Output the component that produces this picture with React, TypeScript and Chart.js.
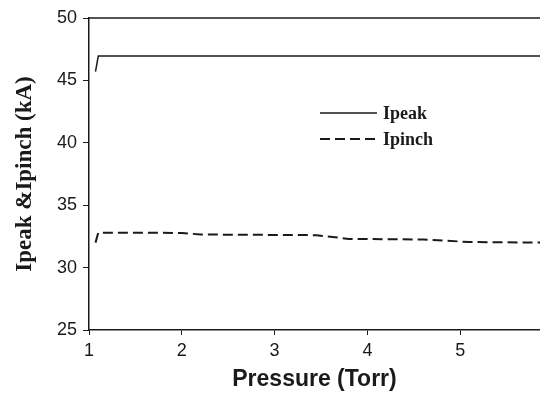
import React, { useEffect, useRef } from "react";
import { Chart, registerables } from "chart.js";

Chart.register(...registerables);

// ---- data ----
const pressure = [1.07, 1.1, 2.0, 2.2, 3.45, 3.8, 4.6, 5.1, 6.0];
const ipeak = [45.7, 46.95, 46.95, 46.95, 46.95, 46.95, 46.95, 46.95, 46.95];
const ipinch = [32.0, 32.8, 32.78, 32.65, 32.6, 32.3, 32.25, 32.05, 32.0];
const seriesNames = ["Ipeak", "Ipinch"];
const xTicks = [1, 2, 3, 4, 5];
const yTicks = [25, 30, 35, 40, 45, 50];
const xRange = [1, 5.86];
const yRange = [25, 50];
const xTitle = "Pressure (Torr)";
const yTitle = "Ipeak &Ipinch (kA)";

const INK = "#1a1a1a";

const frameAndLegend = {
  id: "frameAndLegend",
  afterDraw(chart: any) {
    const { ctx, chartArea } = chart;
    ctx.save();
    // top frame line
    ctx.strokeStyle = INK;
    ctx.lineWidth = 1.5;
    ctx.beginPath();
    ctx.moveTo(chartArea.left, chartArea.top);
    ctx.lineTo(chartArea.right, chartArea.top);
    ctx.stroke();
    // legend
    const x0 = 320;
    const x1 = 377;
    const rows = [113, 139];
    chart.data.datasets.forEach((ds: any, i: number) => {
      const y = rows[i];
      ctx.strokeStyle = ds.borderColor;
      ctx.lineWidth = ds.borderWidth;
      ctx.setLineDash(ds.borderDash || []);
      ctx.beginPath();
      ctx.moveTo(x0, y);
      ctx.lineTo(x1, y);
      ctx.stroke();
      ctx.setLineDash([]);
      ctx.fillStyle = INK;
      ctx.font = "bold 18px 'Liberation Serif', serif";
      ctx.textBaseline = "middle";
      ctx.textAlign = "left";
      ctx.fillText(ds.label, 383, y + 1);
    });
    ctx.restore();
  },
};

export default function App() {
  const ref = useRef<HTMLCanvasElement | null>(null);

  useEffect(() => {
    if (!ref.current) return;
    const chart = new Chart(ref.current, {
      type: "line",
      data: {
        datasets: [
          {
            label: seriesNames[0],
            data: pressure.map((x, i) => ({ x, y: ipeak[i] })),
            borderColor: INK,
            borderWidth: 1.5,
            pointRadius: 0,
            tension: 0,
            fill: false,
          },
          {
            label: seriesNames[1],
            data: pressure.map((x, i) => ({ x, y: ipinch[i] })),
            borderColor: INK,
            borderWidth: 2,
            borderDash: [10, 5],
            pointRadius: 0,
            tension: 0,
            fill: false,
          },
        ],
      },
      options: {
        responsive: false,
        animation: false,
        layout: { padding: { top: 18, right: 0, bottom: 0, left: 0 } },
        plugins: {
          legend: { display: false },
          tooltip: { enabled: false },
        },
        scales: {
          x: {
            type: "linear",
            min: xRange[0],
            max: xRange[1],
            afterBuildTicks: (s: any) => {
              s.ticks = xTicks.map((v) => ({ value: v }));
            },
            afterFit: (s: any) => {
              s.height = 63;
            },
            grid: {
              drawOnChartArea: false,
              drawTicks: true,
              tickLength: 5,
              tickColor: INK,
              tickWidth: 1,
            },
            border: { display: true, color: INK, width: 1.5 },
            ticks: {
              color: INK,
              padding: 5,
              maxRotation: 0,
              font: { family: "'Liberation Sans', Arial, sans-serif", size: 18 },
            },
            title: {
              display: true,
              text: xTitle,
              color: INK,
              padding: { top: 0, bottom: 0 },
              font: { family: "'Liberation Sans', Arial, sans-serif", size: 23, weight: "bold" },
            },
          },
          y: {
            type: "linear",
            min: yRange[0],
            max: yRange[1],
            afterBuildTicks: (s: any) => {
              s.ticks = yTicks.map((v) => ({ value: v }));
            },
            afterFit: (s: any) => {
              s.width = 89;
            },
            grid: {
              drawOnChartArea: false,
              drawTicks: true,
              tickLength: 6,
              tickColor: INK,
              tickWidth: 1,
            },
            border: { display: true, color: INK, width: 1.5 },
            ticks: {
              color: INK,
              padding: 6,
              font: { family: "'Liberation Sans', Arial, sans-serif", size: 18 },
            },
            title: {
              display: true,
              text: yTitle,
              color: INK,
              padding: { top: 11, bottom: 0 },
              font: { family: "'Liberation Serif', 'Times New Roman', serif", size: 23, weight: "bold" },
            },
          },
        },
      },
      plugins: [frameAndLegend],
    } as any);
    return () => chart.destroy();
  }, []);

  return (
    <div style={{ position: "fixed", left: 0, top: 0, width: 540, height: 393, background: "#fff" }}>
      <canvas ref={ref} width={540} height={393} style={{ display: "block" }} />
    </div>
  );
}
